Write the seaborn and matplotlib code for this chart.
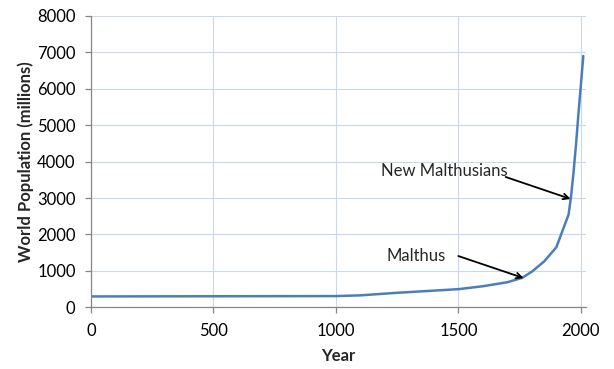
import pandas as pd
import seaborn as sns
import matplotlib.pyplot as plt

# World population estimates (millions)
years = [0, 1000, 1100, 1250, 1500, 1600, 1700, 1760, 1800, 1850, 1900, 1950,
         1960, 1970, 1980, 1990, 2000, 2010]
population = [300, 310, 330, 400, 500, 580, 690, 810, 980, 1260, 1650, 2550,
              3050, 3700, 4450, 5300, 6100, 6900]

x_ticks = [0, 500, 1000, 1500, 2000]
y_ticks = [0, 1000, 2000, 3000, 4000, 5000, 6000, 7000, 8000]

data = pd.DataFrame({'Year': years, 'Population': population})

sns.set_style('white')
plt.rcParams['font.family'] = ['Lato', 'DejaVu Sans']

fig = plt.figure(figsize=(6.14, 3.69), dpi=100)
ax = fig.add_axes([0.148, 0.167, 0.806, 0.790])

sns.lineplot(data=data, x='Year', y='Population', color='#4a7ebb',
             linewidth=1.8, ax=ax)

ax.set_xlim(0, 2020)
ax.set_ylim(0, 8000)
ax.set_xticks(x_ticks)
ax.set_yticks(y_ticks)

# Excel-style light blue gridlines
ax.grid(True, color='#c9d8ee', linewidth=0.8)
ax.set_axisbelow(True)

for side in ['top', 'right']:
    ax.spines[side].set_visible(False)
for side in ['left', 'bottom']:
    ax.spines[side].set_color('#868686')
    ax.spines[side].set_linewidth(0.9)

ax.tick_params(axis='both', which='major', labelsize=12, colors='#868686',
               labelcolor='black', length=4, width=0.9, direction='out',
               bottom=True, left=True)
ax.tick_params(axis='x', pad=7)
ax.tick_params(axis='y', pad=7)

ax.set_xlabel('Year', fontsize=12, fontweight='bold', labelpad=7)
ax.set_ylabel('World Population (millions)', fontsize=12, fontweight='bold',
              labelpad=2)

# Annotations
ax.text(1329, 1409, 'Malthus', fontsize=12, ha='center', va='center')
ax.annotate('', xy=(1766, 805), xytext=(1500, 1409),
            arrowprops=dict(arrowstyle='->', color='black', lw=1.3,
                            shrinkA=0, shrinkB=0))
ax.text(1441, 3752, 'New Malthusians', fontsize=12, ha='center', va='center')
ax.annotate('', xy=(1958, 2975), xytext=(1693, 3579),
            arrowprops=dict(arrowstyle='->', color='black', lw=1.3,
                            shrinkA=0, shrinkB=0))

plt.savefig('out.png', dpi=100)
